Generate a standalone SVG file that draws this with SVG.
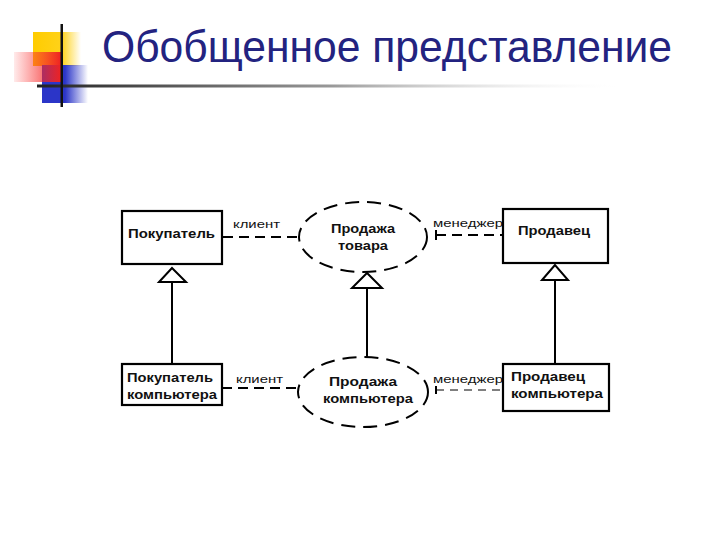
<svg xmlns="http://www.w3.org/2000/svg" width="720" height="540" viewBox="0 0 720 540">
<defs>
<linearGradient id="gy" x1="0" y1="0" x2="1" y2="0"><stop offset="0" stop-color="#ffcc00"/><stop offset="0.6" stop-color="#ffd21a"/><stop offset="1" stop-color="#ffd21a" stop-opacity="0"/></linearGradient>
<linearGradient id="gr" x1="0" y1="0" x2="1" y2="0"><stop offset="0" stop-color="#ff3333" stop-opacity="0.1"/><stop offset="1" stop-color="#ee2222"/></linearGradient>
<linearGradient id="gb" x1="0" y1="0" x2="1" y2="0"><stop offset="0" stop-color="#2b35c8"/><stop offset="0.5" stop-color="#2b35c8"/><stop offset="1" stop-color="#2b35c8" stop-opacity="0"/></linearGradient>
<linearGradient id="gl" x1="0" y1="0" x2="1" y2="0"><stop offset="0" stop-color="#222"/><stop offset="0.5" stop-color="#999"/><stop offset="1" stop-color="#fff" stop-opacity="0"/></linearGradient>
<style>
.box{fill:#fff;stroke:#000;stroke-width:2.2}
.ell{fill:#fff;stroke:#000;stroke-width:2;stroke-dasharray:14 8}
.dash{fill:none;stroke:#000;stroke-width:2;stroke-dasharray:10 6}
.dash2{fill:none;stroke:#000;stroke-width:1.2;stroke-dasharray:8 6}
.ln{fill:none;stroke:#000;stroke-width:2}
.tri{fill:#fff;stroke:#000;stroke-width:2}
.t{font-family:"Liberation Sans",Arial,sans-serif;font-weight:bold;font-size:12px;fill:#111}
.lb{font-family:"Liberation Sans",Arial,sans-serif;font-size:11px;fill:#111}
</style>
</defs>
<g id="decor">
<rect x="33" y="32" width="48" height="34" fill="url(#gy)"/>
<rect x="42" y="65" width="46" height="38" fill="url(#gb)"/>
<rect x="14" y="52" width="47" height="30" fill="url(#gr)"/>
<rect x="37" y="84.5" width="590" height="3" fill="url(#gl)"/>
<rect x="60.5" y="24" width="2.5" height="83" fill="#111"/>
</g>
<text x="102" y="62" font-family="'Liberation Sans',Arial,sans-serif" font-size="44" fill="#232380" textLength="570" lengthAdjust="spacingAndGlyphs">Обобщенное представление</text>
<g id="connectors">
<line class="dash" x1="223" y1="237" x2="298" y2="237"/>
<line class="dash" x1="436" y1="235" x2="503" y2="235"/>
<line class="ln" x1="436" y1="230" x2="436" y2="240"/>
<line class="dash" x1="222" y1="388" x2="298" y2="388"/>
<line class="dash2" x1="436" y1="390" x2="503" y2="390"/>
<line class="ln" x1="436" y1="386" x2="436" y2="394"/>
<line class="ln" x1="172" y1="282" x2="172" y2="364"/>
<line class="ln" x1="367" y1="288" x2="367" y2="357"/>
<line class="ln" x1="555" y1="280" x2="555" y2="363"/>
<polygon class="tri" points="172,268 159,282 186,282"/>
<polygon class="tri" points="367,273 352,288 382,288"/>
<polygon class="tri" points="555,265 542,280 568,280"/>
<text class="lb" x="233" y="228" textLength="47" lengthAdjust="spacingAndGlyphs">клиент</text>
<text class="lb" x="236" y="383" textLength="47" lengthAdjust="spacingAndGlyphs">клиент</text>
<text class="lb" x="433" y="227" textLength="70" lengthAdjust="spacingAndGlyphs">менеджер</text>
<text class="lb" x="433" y="383" textLength="70" lengthAdjust="spacingAndGlyphs">менеджер</text>
</g>
<g id="buyer">
<rect class="box" x="122" y="211" width="100" height="53"/>
<text class="t" x="128" y="238" textLength="87" lengthAdjust="spacingAndGlyphs">Покупатель</text>
</g>
<g id="sale">
<ellipse class="ell" cx="363" cy="237" rx="64" ry="35"/>
<text class="t" x="363" y="233" text-anchor="middle" textLength="64" lengthAdjust="spacingAndGlyphs">Продажа</text>
<text class="t" x="363" y="250" text-anchor="middle" textLength="50" lengthAdjust="spacingAndGlyphs">товара</text>
</g>
<g id="seller">
<rect class="box" x="503" y="209" width="105" height="54"/>
<text class="t" x="518" y="235" textLength="72" lengthAdjust="spacingAndGlyphs">Продавец</text>
</g>
<g id="buyer-pc">
<rect class="box" x="122" y="364" width="100" height="41"/>
<text class="t" x="127" y="382" textLength="86" lengthAdjust="spacingAndGlyphs">Покупатель</text>
<text class="t" x="127" y="399" textLength="90" lengthAdjust="spacingAndGlyphs">компьютера</text>
</g>
<g id="sale-pc">
<ellipse class="ell" cx="363" cy="392" rx="65" ry="35"/>
<text class="t" x="363" y="386" text-anchor="middle" textLength="68" lengthAdjust="spacingAndGlyphs">Продажа</text>
<text class="t" x="368" y="403" text-anchor="middle" textLength="90" lengthAdjust="spacingAndGlyphs">компьютера</text>
</g>
<g id="seller-pc">
<rect class="box" x="503" y="364" width="106" height="47"/>
<text class="t" x="511" y="381" textLength="74" lengthAdjust="spacingAndGlyphs">Продавец</text>
<text class="t" x="511" y="398" textLength="92" lengthAdjust="spacingAndGlyphs">компьютера</text>
</g>
</svg>
